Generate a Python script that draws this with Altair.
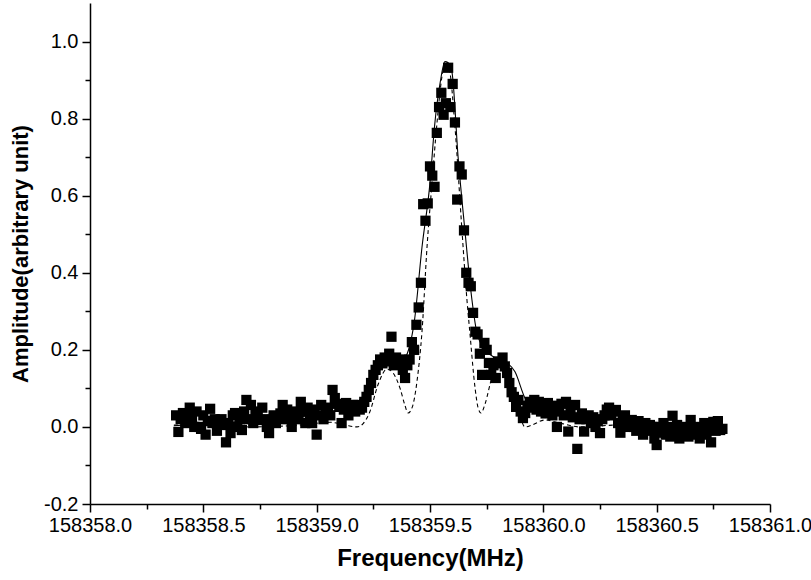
import altair as alt
import pandas as pd

# ---- measured points (frequency in MHz, amplitude) ----
freq = [
    158358.38, 158358.39, 158358.40, 158358.41, 158358.42, 158358.43, 158358.44, 158358.45, 158358.46, 158358.47,
    158358.48, 158358.49, 158358.50, 158358.51, 158358.52, 158358.53, 158358.54, 158358.55, 158358.56, 158358.57,
    158358.58, 158358.59, 158358.60, 158358.61, 158358.62, 158358.63, 158358.64, 158358.65, 158358.66, 158358.67,
    158358.68, 158358.69, 158358.70, 158358.71, 158358.72, 158358.73, 158358.74, 158358.75, 158358.76, 158358.77,
    158358.78, 158358.79, 158358.80, 158358.81, 158358.82, 158358.83, 158358.84, 158358.85, 158358.86, 158358.87,
    158358.88, 158358.89, 158358.90, 158358.91, 158358.92, 158358.93, 158358.94, 158358.95, 158358.96, 158358.97,
    158358.98, 158358.99, 158359.00, 158359.01, 158359.02, 158359.03, 158359.04, 158359.05, 158359.06, 158359.07,
    158359.08, 158359.09, 158359.10, 158359.11, 158359.12, 158359.13, 158359.14, 158359.15, 158359.16, 158359.17,
    158359.18, 158359.19, 158359.20, 158359.21, 158359.22, 158359.23, 158359.24, 158359.25, 158359.26, 158359.27,
    158359.28, 158359.29, 158359.30, 158359.31, 158359.32, 158359.33, 158359.34, 158359.35, 158359.36, 158359.37,
    158359.38, 158359.39, 158359.40, 158359.41, 158359.42, 158359.43, 158359.44, 158359.45, 158359.46, 158359.47,
    158359.48, 158359.49, 158359.50, 158359.51, 158359.52, 158359.53, 158359.54, 158359.55, 158359.56, 158359.57,
    158359.58, 158359.59, 158359.60, 158359.61, 158359.62, 158359.63, 158359.64, 158359.65, 158359.66, 158359.67,
    158359.68, 158359.69, 158359.70, 158359.71, 158359.72, 158359.73, 158359.74, 158359.75, 158359.76, 158359.77,
    158359.78, 158359.79, 158359.80, 158359.81, 158359.82, 158359.83, 158359.84, 158359.85, 158359.86, 158359.87,
    158359.88, 158359.89, 158359.90, 158359.91, 158359.92, 158359.93, 158359.94, 158359.95, 158359.96, 158359.97,
    158359.98, 158359.99, 158360.00, 158360.01, 158360.02, 158360.03, 158360.04, 158360.05, 158360.06, 158360.07,
    158360.08, 158360.09, 158360.10, 158360.11, 158360.12, 158360.13, 158360.14, 158360.15, 158360.16, 158360.17,
    158360.18, 158360.19, 158360.20, 158360.21, 158360.22, 158360.23, 158360.24, 158360.25, 158360.26, 158360.27,
    158360.28, 158360.29, 158360.30, 158360.31, 158360.32, 158360.33, 158360.34, 158360.35, 158360.36, 158360.37,
    158360.38, 158360.39, 158360.40, 158360.41, 158360.42, 158360.43, 158360.44, 158360.45, 158360.46, 158360.47,
    158360.48, 158360.49, 158360.50, 158360.51, 158360.52, 158360.53, 158360.54, 158360.55, 158360.56, 158360.57,
    158360.58, 158360.59, 158360.60, 158360.61, 158360.62, 158360.63, 158360.64, 158360.65, 158360.66, 158360.67,
    158360.68, 158360.69, 158360.70, 158360.71, 158360.72, 158360.73, 158360.74, 158360.75, 158360.76, 158360.77,
    158360.78, 158360.79,
]

amp = [
    0.030, -0.013, 0.020, 0.036, 0.010, 0.025, 0.050, 0.026, 0.000, 0.040,
    0.000, -0.005, 0.030, -0.020, 0.015, 0.047, 0.010, 0.020, -0.010, 0.013,
    0.020, 0.005, -0.040, 0.010, -0.016, 0.030, 0.036, 0.000, 0.020, -0.008,
    0.040, 0.070, 0.020, 0.057, 0.010, 0.040, 0.030, 0.018, 0.050, 0.020,
    0.000, -0.016, 0.018, 0.030, 0.010, 0.023, 0.035, 0.057, 0.020, 0.045,
    0.030, 0.000, 0.025, 0.040, 0.020, 0.065, 0.040, 0.010, 0.050, 0.030,
    0.010, 0.045, -0.020, 0.030, 0.057, 0.020, 0.040, 0.050, 0.030, 0.096,
    0.075, 0.060, 0.052, 0.010, 0.045, 0.062, 0.030, 0.050, 0.057, 0.040,
    0.057, 0.045, 0.050, 0.065, 0.078, 0.096, 0.114, 0.135, 0.148, 0.160,
    0.175, 0.165, 0.180, 0.170, 0.190, 0.234, 0.160, 0.180, 0.165, 0.175,
    0.148, 0.127, 0.160, 0.175, 0.220, 0.200, 0.265, 0.310, 0.374, 0.578,
    0.535, 0.580, 0.676, 0.652, 0.623, 0.763, 0.830, 0.867, 0.810, 0.840,
    0.932, 0.830, 0.890, 0.790, 0.590, 0.676, 0.655, 0.510, 0.400, 0.374,
    0.365, 0.296, 0.247, 0.240, 0.190, 0.135, 0.218, 0.200, 0.166, 0.135,
    0.160, 0.127, 0.170, 0.165, 0.180, 0.157, 0.140, 0.114, 0.090, 0.078,
    0.052, 0.070, 0.040, 0.023, 0.036, 0.055, 0.065, 0.050, 0.070, 0.045,
    0.065, 0.040, 0.060, 0.035, 0.062, 0.045, 0.030, 0.055, 0.000, 0.040,
    0.060, 0.030, 0.065, -0.012, 0.040, 0.025, 0.057, -0.057, 0.020, 0.035,
    -0.012, 0.020, 0.030, 0.010, 0.025, 0.000, 0.015, -0.016, 0.020, 0.030,
    0.045, 0.050, 0.030, 0.040, 0.044, 0.010, -0.015, 0.020, 0.030, 0.000,
    0.010, 0.018, 0.000, -0.010, 0.015, 0.000, -0.020, 0.010, -0.005, 0.005,
    -0.010, -0.030, -0.047, 0.000, -0.015, 0.010, -0.020, 0.000, -0.025, 0.029,
    -0.010, 0.005, -0.030, -0.020, 0.000, -0.015, -0.025, 0.018, -0.005, -0.020,
    0.000, -0.030, -0.010, 0.010, -0.020, 0.000, -0.040, 0.013, -0.010, 0.015,
    -0.008, -0.005,
]

# ---- fitted curve (solid) ----
fit_freq = [158358.37, 158358.57, 158358.79, 158358.97, 158359.10, 158359.19, 158359.24,
            158359.28, 158359.31, 158359.35, 158359.39, 158359.41, 158359.43, 158359.465,
            158359.50, 158359.52, 158359.545, 158359.566, 158359.58, 158359.597, 158359.624,
            158359.654, 158359.685, 158359.707, 158359.743, 158359.787, 158359.831, 158359.875,
            158359.919, 158359.963, 158360.073, 158360.25, 158360.47, 158360.69, 158360.79]
fit_amp = [0.003, 0.010, 0.020, 0.030, 0.045, 0.070, 0.110,
           0.150, 0.165, 0.170, 0.180, 0.210, 0.270, 0.468,
           0.634, 0.780, 0.894, 0.948, 0.945, 0.920, 0.700,
           0.510, 0.330, 0.244, 0.200, 0.180, 0.170, 0.143,
           0.075, 0.044, 0.030, 0.023, 0.013, 0.005, 0.003]

# ---- theoretical curve (dashed) ----
th_freq = [158358.37, 158358.71, 158358.93, 158359.06, 158359.125, 158359.178, 158359.204,
           158359.235, 158359.271, 158359.31, 158359.337, 158359.368, 158359.39, 158359.403,
           158359.421, 158359.443, 158359.465, 158359.487, 158359.509, 158359.531, 158359.553,
           158359.571, 158359.588, 158359.61, 158359.641, 158359.663, 158359.676, 158359.699,
           158359.712, 158359.725, 158359.743, 158359.774, 158359.818, 158359.853, 158359.888,
           158359.919, 158359.95, 158360.007, 158360.073, 158360.162, 158360.338, 158360.69,
           158360.79]
th_amp = [0.005, 0.000, 0.005, 0.012, 0.005, 0.000, 0.008,
          0.040, 0.110, 0.150, 0.140, 0.100, 0.055, 0.036,
          0.050, 0.120, 0.250, 0.468, 0.634, 0.790, 0.910,
          0.948, 0.920, 0.780, 0.510, 0.330, 0.244, 0.100,
          0.050, 0.036, 0.060, 0.130, 0.170, 0.130, 0.050,
          0.000, 0.005, 0.018, 0.010, 0.000, 0.005, 0.000,
          0.000]

# tick positions: major (labelled) and minor (unlabelled) interleaved
x_ticks = [158358.0, 158358.25, 158358.5, 158358.75, 158359.0, 158359.25, 158359.5,
           158359.75, 158360.0, 158360.25, 158360.5, 158360.75, 158361.0]
y_ticks = [-0.2, -0.1, 0.0, 0.1, 0.2, 0.3, 0.4, 0.5, 0.6, 0.7, 0.8, 0.9, 1.0]

pts = pd.DataFrame({"f": freq, "a": amp})
fit = pd.DataFrame({"f": fit_freq, "a": fit_amp})
th = pd.DataFrame({"f": th_freq, "a": th_amp})

FONT = "Liberation Sans"
xs = alt.Scale(domain=[158358.0, 158361.0], nice=False, zero=False)
ys = alt.Scale(domain=[-0.2, 1.1], nice=False, zero=False)

x_major_test = "round(datum.value * 4) % 2 == 0"
y_major_test = "abs(round(datum.value * 10)) % 2 == 0"

x_label_expr = "(" + x_major_test + ") ? format(datum.value, '.1f') : ''"
y_label_expr = ("(" + y_major_test + ") ? (datum.value < 0 ? '-' + format(-datum.value, '.1f')"
                " : format(datum.value, '.1f')) : ''")

x_axis = alt.Axis(values=x_ticks, labelExpr=x_label_expr, orient="bottom", grid=False,
                  tickSize={"condition": {"test": x_major_test, "value": 8}, "value": 5},
                  tickWidth=1.5, domainWidth=1.5, domainColor="black",
                  tickColor="black", labelFont=FONT, labelFontSize=20, labelColor="black",
                  labelPadding=3, labelFlush=False, labelOverlap=False,
                  title="Frequency(MHz)", titleFont=FONT, titleFontSize=24,
                  titleFontWeight="bold", titleColor="black", titlePadding=11)
y_axis = alt.Axis(values=y_ticks, labelExpr=y_label_expr, orient="left", grid=False,
                  tickSize={"condition": {"test": y_major_test, "value": 8}, "value": 5},
                  tickWidth=1.5, domainWidth=1.5, domainColor="black",
                  tickColor="black", labelFont=FONT, labelFontSize=20, labelColor="black",
                  labelPadding=4, labelFlush=False, labelOverlap=False,
                  title="Amplitude(arbitrary unit)", titleFont=FONT, titleFontSize=22,
                  titleFontWeight="bold", titleColor="black", titlePadding=11)

points = alt.Chart(pts).mark_point(shape="square", filled=True, color="black",
                                   size=105, opacity=1).encode(
    x=alt.X("f:Q", scale=xs, axis=x_axis),
    y=alt.Y("a:Q", scale=ys, axis=y_axis),
)

fit_line = alt.Chart(fit).mark_line(color="black", strokeWidth=1.1,
                                    interpolate="monotone").encode(
    x=alt.X("f:Q", scale=xs), y=alt.Y("a:Q", scale=ys))

th_line = alt.Chart(th).mark_line(color="black", strokeWidth=1.1, strokeDash=[4, 3],
                                  interpolate="monotone").encode(
    x=alt.X("f:Q", scale=xs), y=alt.Y("a:Q", scale=ys))

chart = alt.layer(points, fit_line, th_line).properties(
    width=680, height=501,
    background="white",
    autosize=alt.AutoSizeParams(type="none"),
    padding={"left": 90, "top": 3, "right": 41, "bottom": 76},
).configure_axis(
    grid=False, gridOpacity=0
).configure_view(
    stroke=None, strokeOpacity=0, strokeWidth=0
)

chart.save("out.html", embed_options={"renderer": "svg", "actions": False})
